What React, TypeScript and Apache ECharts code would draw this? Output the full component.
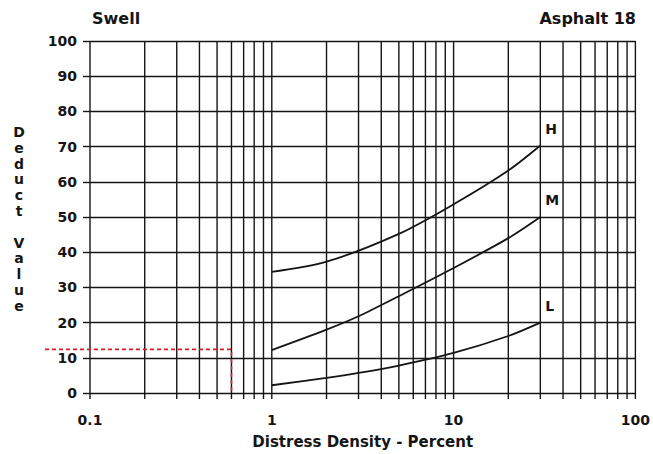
import React, { useEffect, useRef } from 'react';
import * as echarts from 'echarts';

// ---- data ----
const xMin = 0.1;
const xMax = 100;
const yMin = 0;
const yMax = 100;
const yInterval = 10;
const decades = [0.1, 1, 10];
const multipliers = [1, 2, 3, 4, 5, 6, 7, 8, 9];
const gridXValues: number[] = decades
  .flatMap((d) => multipliers.map((m) => +(d * m).toPrecision(3)))
  .concat([100]);

const highX = [1, 2, 5, 10, 20, 30];
const highY = [34.4, 37.3, 45.2, 53.6, 63.2, 70.3];
const mediumX = [1, 2, 3, 5, 10, 20, 30];
const mediumY = [12.2, 18, 21.8, 27.5, 35.5, 44, 50];
const lowX = [1, 2, 3, 5, 10, 20, 30];
const lowY = [2.2, 4.3, 5.7, 7.8, 11.4, 16.2, 20];
const seriesNames = ['H', 'M', 'L'];

const readPoint = [0.6, 12.4];

const FONT = 'DejaVu Sans';
const INK = '#151515';

export default function App() {
  const ref = useRef<HTMLDivElement>(null);
  useEffect(() => {
    document.body.style.margin = '0';
    const chart = echarts.init(ref.current!, undefined, { renderer: 'svg' });
    const mk = (xs: number[], ys: number[]) => xs.map((x, i) => [x, ys[i]]);
    const curves = [
      [highX, highY],
      [mediumX, mediumY],
      [lowX, lowY],
    ];
    const lineSeries = curves.map(([xs, ys], i) => ({
      type: 'line',
      name: seriesNames[i],
      data: mk(xs, ys),
      smooth: 0.3,
      showSymbol: false,
      symbol: 'none',
      lineStyle: { color: INK, width: 1.8 },
      z: 5,
      endLabel: {
        show: true,
        formatter: seriesNames[i],
        color: INK,
        fontFamily: FONT,
        fontWeight: 'bold',
        fontSize: 14,
        distance: 5,
        offset: [0, -17],
      },
    }));
    chart.setOption({
      animation: false,
      backgroundColor: '#ffffff',
      grid: { left: 90, right: 15, top: 41, bottom: 58, containLabel: false },
      xAxis: {
        type: 'log',
        logBase: 10,
        min: xMin,
        max: xMax,
        name: 'Distress Density - Percent',
        nameLocation: 'middle',
        nameGap: 41,
        nameTextStyle: { fontFamily: FONT, fontWeight: 'bold', fontSize: 15, color: INK },
        axisLine: { show: false },
        axisTick: { show: false },
        splitLine: { show: false },
        minorTick: { show: false },
        axisLabel: {
          fontFamily: FONT,
          fontWeight: 'bold',
          fontSize: 14,
          color: INK,
          margin: 20,
          formatter: (v: number) => String(+Number(v).toPrecision(3)),
        },
      },
      yAxis: {
        type: 'value',
        min: yMin,
        max: yMax,
        interval: yInterval,
        axisLine: { show: false },
        axisTick: { show: true, length: 7, lineStyle: { color: INK, width: 1.4 } },
        splitLine: { show: true, lineStyle: { color: INK, width: 1.4 } },
        axisLabel: {
          fontFamily: FONT,
          fontWeight: 'bold',
          fontSize: 14,
          color: INK,
          margin: 13,
        },
      },
      graphic: [
        {
          type: 'text',
          left: 92,
          top: 10,
          style: { text: 'Swell', fontFamily: FONT, fontWeight: 'bold', fontSize: 16, fill: INK },
        },
        {
          type: 'text',
          right: 17,
          top: 10,
          style: { text: 'Asphalt 18', fontFamily: FONT, fontWeight: 'bold', fontSize: 16, fill: INK },
        },
        {
          type: 'text',
          x: 19,
          y: 124,
          style: {
            text: 'D\ne\nd\nu\nc\nt\n\nV\na\nl\nu\ne',
            fontFamily: FONT,
            fontWeight: 'bold',
            fontSize: 14,
            lineHeight: 15.8,
            align: 'center',
            verticalAlign: 'top',
            fill: INK,
          },
        },
      ],
      series: [
        {
          type: 'custom',
          coordinateSystem: 'cartesian2d',
          silent: true,
          clip: false,
          z: 1,
          data: gridXValues.map((v) => [v, yMin]),
          renderItem: (_p: any, api: any) => {
            const x = api.value(0);
            const top = api.coord([x, yMax]);
            const bot = api.coord([x, yMin]);
            return {
              type: 'line',
              shape: { x1: top[0], y1: top[1], x2: bot[0], y2: bot[1] + 6 },
              style: { stroke: INK, lineWidth: 1.4, fill: 'none' },
            };
          },
        },
        {
          type: 'custom',
          coordinateSystem: 'cartesian2d',
          silent: true,
          clip: false,
          z: 6,
          data: [readPoint],
          renderItem: (_p: any, api: any) => {
            const px = api.value(0);
            const py = api.value(1);
            const p = api.coord([px, py]);
            const p0 = api.coord([px, yMin]);
            const left = api.coord([xMin, py])[0] - 45;
            return {
              type: 'polyline',
              shape: { points: [[left, p[1]], p, p0] },
              style: { stroke: '#d81e24', lineWidth: 1.6, lineDash: [4, 3], fill: 'none', opacity: 1 },
            };
          },
        },
        ...lineSeries,
      ],
    });
    return () => chart.dispose();
  }, []);
  return (
    <div
      ref={ref}
      style={{ position: 'fixed', left: 0, top: 0, width: 653, height: 454, background: '#fff' }}
    />
  );
}
